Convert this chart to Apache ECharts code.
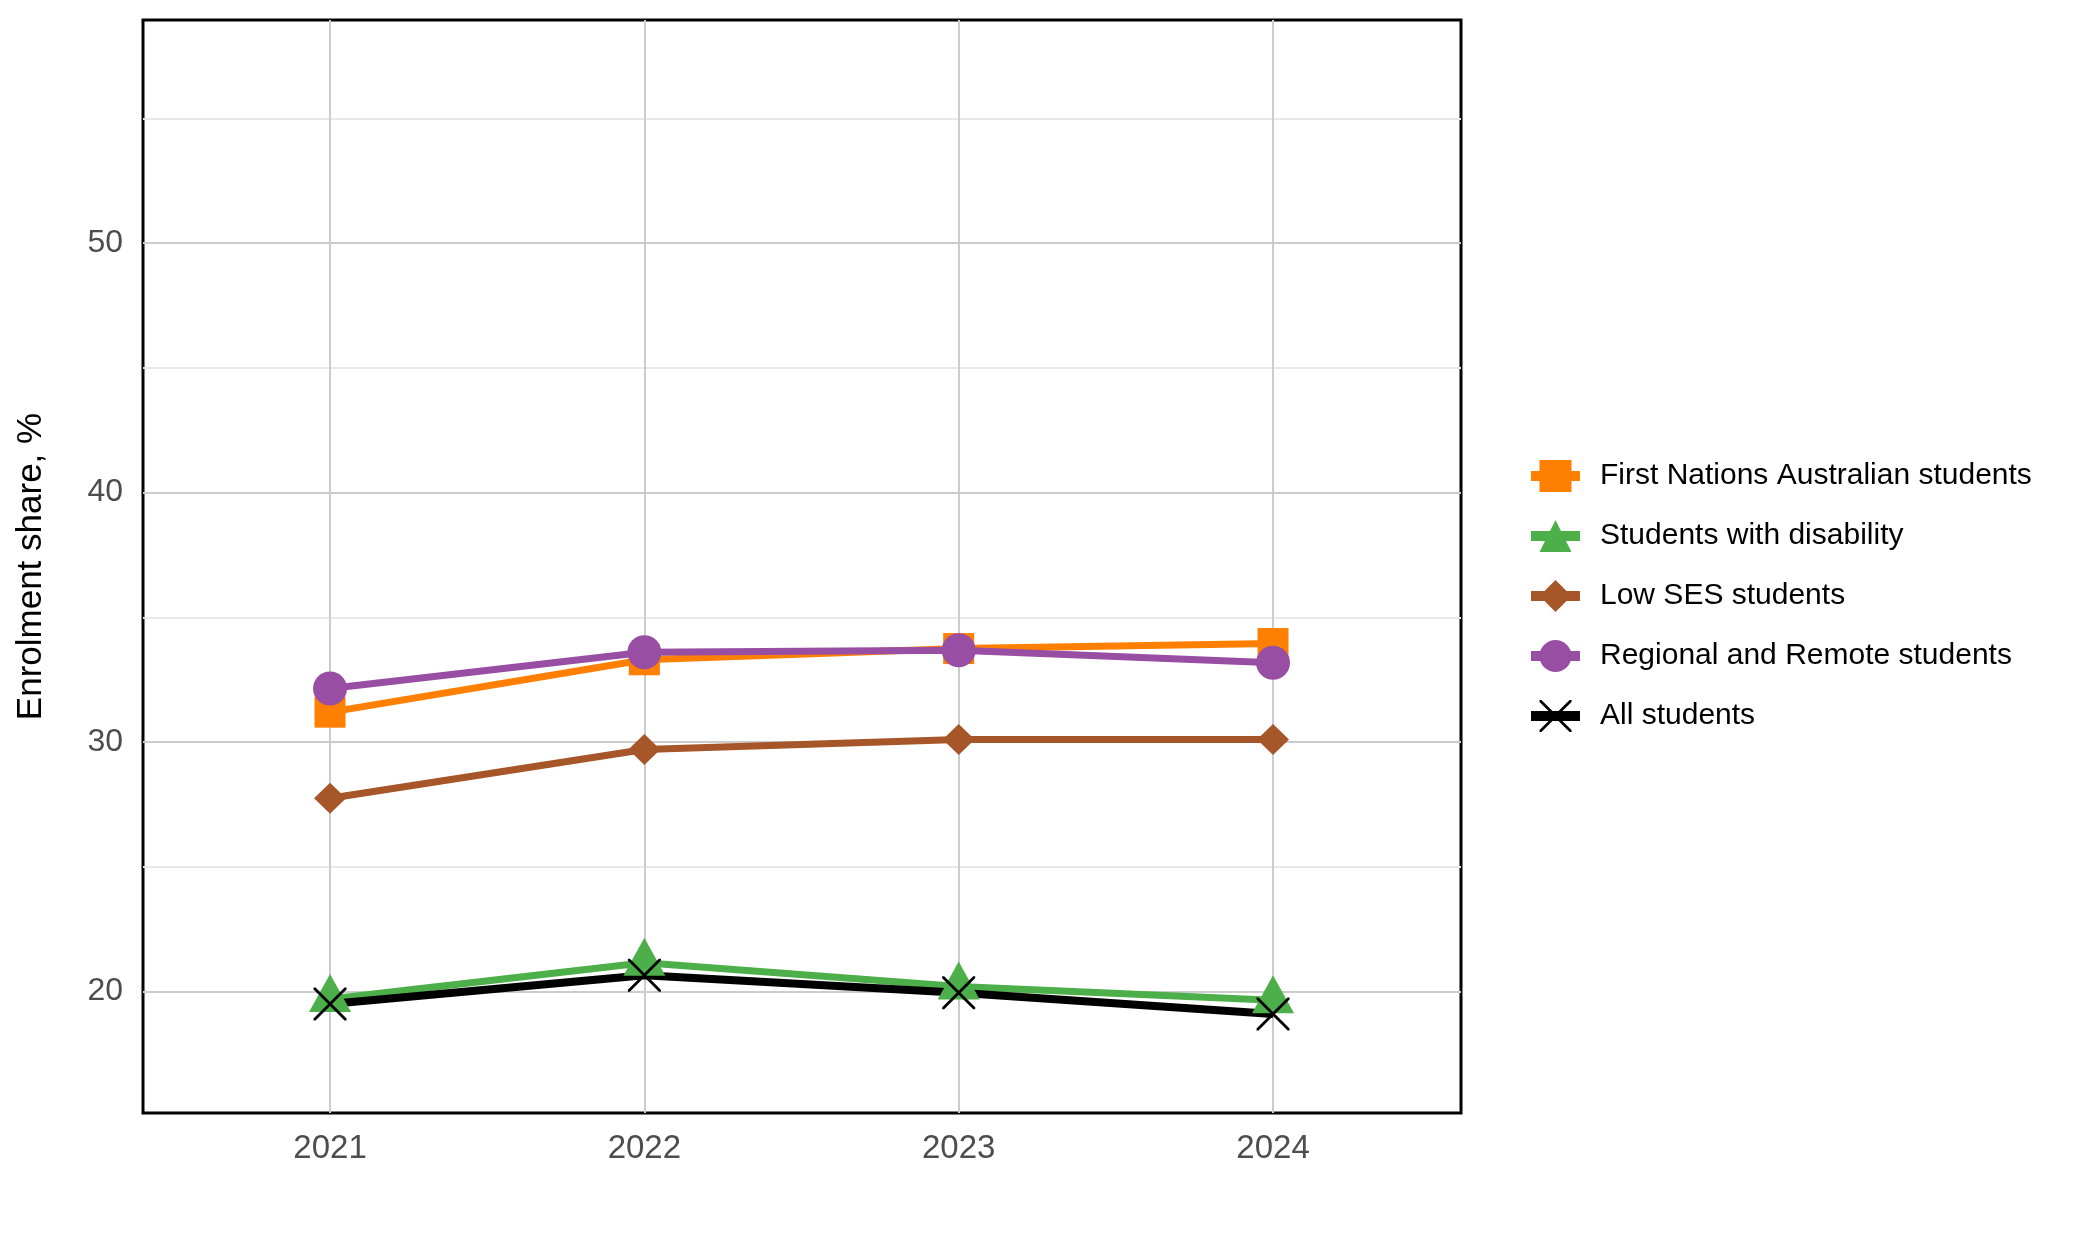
<!DOCTYPE html>
<html><head><meta charset="utf-8">
<script src="https://cdn.jsdelivr.net/npm/echarts@6/dist/echarts.min.js"></script>
<style>html,body{margin:0;padding:0;background:#fff}#c{width:2075px;height:1250px}</style>
</head><body><div id="c"></div>
<script>
const years = [2021, 2022, 2023, 2024];
const seriesNames = ['First Nations Australian students', 'Students with disability', 'Low SES students', 'Regional and Remote students', 'All students'];
const firstNations = [31.2, 33.3, 33.75, 33.95];
const disability = [19.7, 21.15, 20.2, 19.65];
const lowSES = [27.75, 29.7, 30.1, 30.1];
const regional = [32.15, 33.6, 33.68, 33.18];
const allStudents = [19.5, 20.65, 19.95, 19.1];
const yTickValues = [20, 25, 30, 35, 40, 45, 50, 55];
const yLabelValues = [20, 30, 40, 50];
const xTickValues = [2021, 2022, 2023, 2024];

const FONT = 'Liberation Sans, Arial, sans-serif';
const xPath = 'path://M0,0 L6,0 L50,44 L94,0 L100,0 L100,6 L56,50 L100,94 L100,100 L94,100 L50,56 L6,100 L0,100 L0,94 L44,50 L0,6 Z';
const pairs = arr => years.map((y, i) => [y, arr[i]]);

const styles = [
  {data: firstNations, color: '#FF7F00', symbol: 'rect', size: 31, offset: [0, 0]},
  {data: disability, color: '#4DAF4A', symbol: 'triangle', size: [42, 38], offset: [0, -6]},
  {data: lowSES, color: '#A65628', symbol: 'diamond', size: [32, 31], offset: [0, 0]},
  {data: regional, color: '#984EA3', symbol: 'circle', size: 34, offset: [0, 0]},
  {data: allStudents, color: '#000000', symbol: xPath, size: 33, offset: [0, 0]}
];

const chart = echarts.init(document.getElementById('c'), null, {renderer: 'canvas'});
chart.setOption({
  animation: false,
  backgroundColor: '#ffffff',
  grid: {left: 143, right: 614, top: 20, bottom: 137, show: true, borderColor: '#000', borderWidth: 3, backgroundColor: 'transparent'},
  xAxis: {
    type: 'value', min: 2020.405, max: 2024.598,
    axisLine: {show: false},
    axisTick: {show: false, customValues: xTickValues},
    axisLabel: {customValues: xTickValues, color: '#4D4D4D', fontSize: 33, fontFamily: FONT, margin: 19, formatter: v => String(v)},
    splitLine: {show: true, lineStyle: {color: '#cccccc', width: 2}}
  },
  yAxis: {
    type: 'value', min: 15.13, max: 58.95,
    name: 'Enrolment share, %', nameLocation: 'middle', nameRotate: 90, nameGap: 94,
    nameTextStyle: {color: '#000', fontSize: 35, fontFamily: FONT},
    axisLine: {show: false},
    axisTick: {show: false, customValues: yTickValues},
    axisLabel: {customValues: yLabelValues, color: '#4D4D4D', fontSize: 32, fontFamily: FONT, margin: 20},
    splitLine: {show: true, lineStyle: {color: ['#cccccc', '#e8e8e8'], width: 2}}
  },
  legend: {
    orient: 'vertical', left: 1526, top: 460, padding: 0,
    itemWidth: 49, itemHeight: 40, itemGap: 28,
    lineStyle: {width: 10},
    textStyle: {color: '#000', fontSize: 30, fontFamily: FONT, padding: [0, 0, 0, 15]},
    data: seriesNames
  },
  series: styles.map((s, i) => ({
    name: seriesNames[i], type: 'line', data: pairs(s.data),
    symbol: s.symbol, symbolSize: s.size, symbolOffset: s.offset, symbolKeepAspect: true,
    showSymbol: true,
    lineStyle: {color: s.color, width: i === 4 ? 8 : 7},
    itemStyle: {color: s.color, opacity: 1},
    emphasis: {disabled: true}
  }))
});
</script></body></html>
